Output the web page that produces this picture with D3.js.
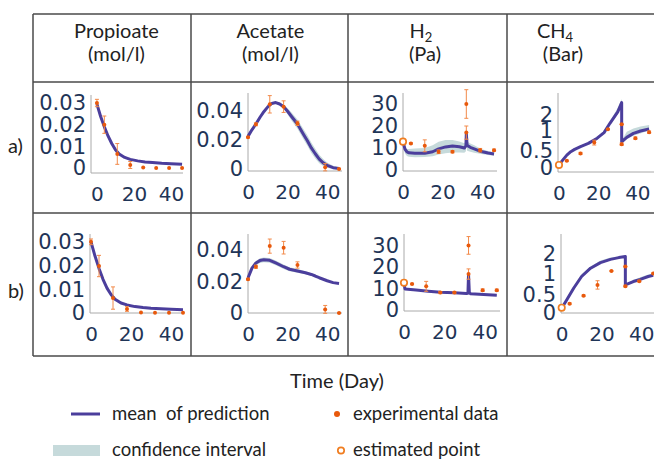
<!DOCTYPE html>
<html>
<head>
<meta charset="utf-8">
<script src="https://cdn.jsdelivr.net/npm/d3@7"></script>
<style>
  body { margin: 0; background: #fff; }
  svg { display: block; }
</style>
</head>
<body>
<svg id="chart" width="654" height="459"></svg>
<script>
// ---- data ----
var headerNames = ["Propioate", "Acetate", "H", "CH"];
var headerSubs = ["", "", "2", "4"];
var headerUnits = ["(mol/l)", "(mol/l)", "(Pa)", "(Bar)"];
var rowLabels = ["a)", "b)"];
var xTicks = [0, 20, 40];
var propTicks = [0, 0.01, 0.02, 0.03];
var acetTicks = [0, 0.02, 0.04];
var h2Ticks = [0, 10, 20, 30];
var ch4Ticks = [0, 0.5, 1, 2];

var expDays = [0, 4, 11, 18, 25, 32, 39, 46];
var acetExpDays = [0, 4, 11, 18, 25, 39, 46];
var gasExpDays = [4, 11, 18, 25, 32, 32, 39, 46];

// propionate
var propDays = [0, 2, 4, 6, 8, 10, 12, 15, 18, 22, 26, 30, 35, 40, 46];
var propA_mean = [0.0295, 0.0238, 0.019, 0.0148, 0.0113, 0.0084, 0.0065, 0.0049, 0.004, 0.0033, 0.0028, 0.0025, 0.0022, 0.002, 0.0017];
var propA_lo = [0.0292, 0.0235, 0.0187, 0.0145, 0.011, 0.0081, 0.0062, 0.0046, 0.0037, 0.003, 0.0025, 0.0022, 0.0019, 0.0017, 0.0014];
var propA_hi = [0.0298, 0.0241, 0.0193, 0.0151, 0.0116, 0.0087, 0.0068, 0.0052, 0.0043, 0.0036, 0.0031, 0.0028, 0.0025, 0.0023, 0.002];
var propA_exp = [0.030, 0.020, 0.0065, 0.0014, 0.0002, 0, 0, 0];
var propA_err = [0.0017, 0.004, 0.0048, 0.0016, 0, 0, 0, 0];
var propB_mean = [0.030, 0.024, 0.0188, 0.0142, 0.0105, 0.0078, 0.0058, 0.0042, 0.0034, 0.0027, 0.0023, 0.002, 0.0018, 0.0016, 0.0014];
var propB_lo = [0.0297, 0.0237, 0.0185, 0.0139, 0.0102, 0.0075, 0.0055, 0.0039, 0.0031, 0.0024, 0.002, 0.0017, 0.0015, 0.0013, 0.0011];
var propB_hi = [0.0303, 0.0243, 0.0191, 0.0145, 0.0108, 0.0081, 0.0061, 0.0045, 0.0037, 0.003, 0.0026, 0.0023, 0.0021, 0.0019, 0.0017];
var propB_exp = [0.030, 0.0198, 0.0063, 0.0017, 0.0002, 0.0001, 0.0001, 0.0001];
var propB_err = [0.0012, 0.0045, 0.0047, 0.001, 0, 0, 0, 0];

// acetate
var acetA_days = [0, 2, 4, 6, 8, 10, 12, 14, 16, 18, 20, 22, 25, 28, 30, 32, 34, 36, 38, 40, 43, 46];
var acetA_mean = [0.0225, 0.027, 0.031, 0.0355, 0.0395, 0.0428, 0.0452, 0.0458, 0.0448, 0.043, 0.0398, 0.0362, 0.031, 0.024, 0.0195, 0.0145, 0.0105, 0.0068, 0.0042, 0.0025, 0.0009, 0.0003];
var acetA_lo = [0.022, 0.0265, 0.0305, 0.035, 0.039, 0.0423, 0.0447, 0.0452, 0.0438, 0.0416, 0.0378, 0.0335, 0.0278, 0.0205, 0.016, 0.011, 0.0072, 0.004, 0.002, 0.0008, 0, 0];
var acetA_hi = [0.023, 0.0275, 0.0315, 0.036, 0.04, 0.0433, 0.0457, 0.0465, 0.0458, 0.0444, 0.0418, 0.039, 0.0342, 0.0276, 0.0232, 0.0182, 0.014, 0.0098, 0.0068, 0.0045, 0.0022, 0.001];
var acetA_exp = [0.0219, 0.0308, 0.0446, 0.043, 0.0315, 0.0012, 0];
var acetA_err = [0.0005, 0.001, 0.006, 0.004, 0.0015, 0.0025, 0.0004];
var acetB_days = [0, 2, 4, 6, 8, 11, 14, 18, 21, 25, 29, 32, 34, 36, 40, 43, 46];
var acetB_mean = [0.0222, 0.0285, 0.0318, 0.0333, 0.0338, 0.0335, 0.0318, 0.0294, 0.0278, 0.0267, 0.0256, 0.0245, 0.0235, 0.0224, 0.0205, 0.0193, 0.0188];
var acetB_lo = [0.0217, 0.0275, 0.0305, 0.0318, 0.0323, 0.032, 0.0303, 0.028, 0.0265, 0.0255, 0.0246, 0.0237, 0.0228, 0.0218, 0.02, 0.0188, 0.0183];
var acetB_hi = [0.0227, 0.0295, 0.0331, 0.0348, 0.0353, 0.035, 0.0333, 0.0308, 0.0291, 0.0279, 0.0266, 0.0253, 0.0242, 0.023, 0.021, 0.0198, 0.0193];
var acetB_exp = [0.0214, 0.0294, 0.0425, 0.0415, 0.0305, 0.0023, 0];
var acetB_err = [0.0005, 0.001, 0.0045, 0.004, 0.002, 0.0025, 0.0003];

// hydrogen
var h2A_days = [0, 1, 2, 3, 6, 11, 15, 18, 21.5, 25, 28.5, 31, 31.8, 32, 32.4, 34, 36, 39.5, 43, 46];
var h2A_mean = [12.9, 9.5, 8.2, 7.8, 7.6, 7.6, 8.3, 9.6, 10.5, 10.9, 10.6, 10.0, 11.0, 16.7, 11.2, 10.3, 9.6, 8.4, 7.7, 7.3];
var h2A_lo = [11.5, 7.5, 6.4, 6.0, 5.8, 5.9, 6.2, 7.0, 7.6, 8.0, 8.0, 7.8, 8.5, 14.0, 8.8, 8.3, 7.9, 7.3, 6.8, 6.5];
var h2A_hi = [13.5, 10.5, 9.6, 9.6, 9.8, 10.0, 11.2, 12.8, 13.6, 13.6, 13.0, 12.2, 13.0, 18.0, 13.0, 12.0, 11.2, 9.6, 8.6, 8.1];
var h2A_exp = [12.1, 11.0, 8.3, 8.3, 30.0, 17.0, 9.0, 9.0];
var h2A_err = [0.3, 2.7, 0.8, 0.5, 6.5, 3.0, 0.8, 0.5];
var h2A_open = 12.9;
var h2B_days = [0, 0.5, 6, 12, 18, 25, 31, 31.7, 32, 32.4, 33, 39.5, 46];
var h2B_mean = [12.5, 9.8, 9.3, 8.7, 8.2, 8.0, 7.7, 7.8, 16.5, 8.0, 7.6, 7.2, 6.9];
var h2B_lo = [12.0, 9.4, 8.9, 8.3, 7.8, 7.6, 7.3, 7.4, 15.5, 7.6, 7.2, 6.8, 6.5];
var h2B_hi = [12.8, 10.2, 9.7, 9.1, 8.6, 8.4, 8.1, 8.2, 17.0, 8.4, 8.0, 7.6, 7.3];
var h2B_exp = [12.1, 11.0, 8.1, 8.1, 30.0, 16.7, 9.2, 9.2];
var h2B_err = [0.3, 2.3, 0.5, 0.5, 4.1, 2.4, 0.6, 0.5];
var h2B_open = 12.7;

// methane
var ch4A_days = [0, 2, 4, 6, 8, 11, 15, 19.5, 23, 26, 30, 32, 32, 34.6, 38, 41.6, 46];
var ch4A_mean = [0.09, 0.24, 0.38, 0.48, 0.54, 0.61, 0.69, 0.82, 0.96, 1.48, 2.2, 2.77, 0.73, 0.84, 0.94, 1.0, 1.12];
var ch4A_lo = [0.09, 0.23, 0.36, 0.46, 0.52, 0.59, 0.67, 0.79, 0.93, 1.42, 2.05, 2.55, 0.70, 0.80, 0.88, 0.94, 1.05];
var ch4A_hi = [0.09, 0.25, 0.40, 0.50, 0.56, 0.63, 0.71, 0.85, 1.0, 1.6, 2.45, 3.0, 0.76, 0.98, 1.15, 1.28, 1.38];
var ch4A_exp = [0.21, 0.43, 0.71, 1.11, 1.42, 0.67, 0.82, 0.97];
var ch4A_err = [0.02, 0.03, 0.06, 0.03, 0.03, 0.03, 0.03, 0.03];
var ch4A_open = 0.09;
var ch4B_days = [0, 2.5, 6, 10, 14.5, 19.5, 24.5, 28.7, 32, 32, 36, 39.5, 43.5, 46];
var ch4B_mean = [0.13, 0.36, 0.66, 0.94, 1.29, 1.57, 1.73, 1.82, 1.87, 0.74, 0.82, 0.87, 0.94, 0.97];
var ch4B_lo = [0.13, 0.34, 0.63, 0.91, 1.25, 1.53, 1.69, 1.79, 1.84, 0.72, 0.80, 0.85, 0.92, 0.95];
var ch4B_hi = [0.13, 0.38, 0.70, 1.0, 1.38, 1.68, 1.82, 1.88, 1.92, 0.76, 0.86, 0.92, 0.99, 1.02];
var ch4B_exp = [0.26, 0.48, 0.74, 1.15, 1.37, 0.71, 0.83, 1.03];
var ch4B_err = [0.02, 0.02, 0.1, 0.02, 0.02, 0.02, 0.02, 0.02];
var ch4B_open = 0.147;

// ---- styling ----
var lineColor = "#4b3e9c";
var bandColor = "#c6dadb";
var dotColor = "#e8590c";
var errColor = "#f28a4a";
var openColor = "#f07d20";
var tickColor = "#1f3557";
var gridColor = "#4a4a4a";
var textFont = "Lato, 'Open Sans', sans-serif";
var tickFont = "'DejaVu Sans', Verdana, sans-serif";

var svg = d3.select("#chart");

// panel boxes in pixels (the y scales are piecewise where the figure's tick spacing is uneven)
var panels = [
  { left: 91, right: 183, top: 95, bottom: 173, xDom: [-3.2, 46.5], yDom: [-0.0023, 0.0337], yRng: [173, 95],
    ticks: propTicks, days: propDays, mean: propA_mean, lo: propA_lo, hi: propA_hi, eDays: expDays, exp: propA_exp, err: propA_err },
  { left: 248, right: 342, top: 93, bottom: 171, xDom: [0, 47.5], yDom: [-0.0014, 0.0524], yRng: [171, 93],
    ticks: acetTicks, days: acetA_days, mean: acetA_mean, lo: acetA_lo, hi: acetA_hi, eDays: acetExpDays, exp: acetA_exp, err: acetA_err },
  { left: 403, right: 497, top: 93, bottom: 171, xDom: [0, 47.5], yDom: [-0.45, 35], yRng: [171, 93],
    ticks: h2Ticks, days: h2A_days, mean: h2A_mean, lo: h2A_lo, hi: h2A_hi, eDays: gasExpDays, exp: h2A_exp, err: h2A_err, open: h2A_open },
  { left: 558, right: 654, top: 93, bottom: 172, xDom: [-0.5, 48.5], yDom: [-0.12, 0, 0.5, 1, 2, 3.375], yRng: [172, 168, 151, 131, 115, 93],
    ticks: ch4Ticks, days: ch4A_days, mean: ch4A_mean, lo: ch4A_lo, hi: ch4A_hi, eDays: gasExpDays, exp: ch4A_exp, err: ch4A_err, open: ch4A_open },
  { left: 90, right: 183, top: 234, bottom: 313, xDom: [-0.5, 46], yDom: [0, 0.0333], yRng: [313, 234],
    ticks: propTicks, days: propDays, mean: propB_mean, lo: propB_lo, hi: propB_hi, eDays: expDays, exp: propB_exp, err: propB_err },
  { left: 248, right: 342, top: 234, bottom: 313, xDom: [0, 47.5], yDom: [0, 0.0502], yRng: [313, 234],
    ticks: acetTicks, days: acetB_days, mean: acetB_mean, lo: acetB_lo, hi: acetB_hi, eDays: acetExpDays, exp: acetB_exp, err: acetB_err },
  { left: 404, right: 500, top: 234, bottom: 311, xDom: [0, 47.6], yDom: [-0.45, 35.3], yRng: [311, 234],
    ticks: h2Ticks, days: h2B_days, mean: h2B_mean, lo: h2B_lo, hi: h2B_hi, eDays: gasExpDays, exp: h2B_exp, err: h2B_err, open: h2B_open },
  { left: 561, right: 654, top: 234, bottom: 313, xDom: [-0.35, 46.4], yDom: [0, 0.5, 1, 2, 3], yRng: [313, 295, 274, 254, 234],
    ticks: ch4Ticks, days: ch4B_days, mean: ch4B_mean, lo: ch4B_lo, hi: ch4B_hi, eDays: gasExpDays, exp: ch4B_exp, err: ch4B_err, open: ch4B_open }
];

drawTable();
panels.forEach(drawPanel);
drawLegend();

// the grid around the small plots, with headers and row labels
function drawTable() {
  var colX = [33, 191, 348, 507];
  var rowY = [14, 82, 213, 356];
  var g = svg.append("g").attr("stroke", gridColor).attr("stroke-width", 1.5);
  rowY.forEach(function(y) {
    g.append("line").attr("x1", 33).attr("x2", 654).attr("y1", y).attr("y2", y);
  });
  colX.forEach(function(x) {
    g.append("line").attr("x1", x).attr("x2", x).attr("y1", 14).attr("y2", 356);
  });

  var headX = [116.5, 270.5, 421, 555];
  var unitX = [116.5, 270.5, 425, 563];
  headerNames.forEach(function(name, i) {
    var t = svg.append("text")
      .attr("x", headX[i]).attr("y", 38)
      .attr("text-anchor", "middle")
      .style("font-family", textFont).style("font-size", "20px").style("fill", "#222")
      .text(name);
    if (headerSubs[i]) {
      t.append("tspan").attr("dy", 4).style("font-size", "13px").text(headerSubs[i]);
    }
    svg.append("text")
      .attr("x", unitX[i]).attr("y", 61)
      .attr("text-anchor", "middle")
      .style("font-family", textFont).style("font-size", "20px").style("fill", "#222")
      .text(headerUnits[i]);
  });

  rowLabels.forEach(function(lab, i) {
    svg.append("text")
      .attr("x", 8).attr("y", [153, 298][i])
      .style("font-family", textFont).style("font-size", "20px").style("fill", "#222")
      .text(lab);
  });

  svg.append("text")
    .attr("x", 337).attr("y", 388)
    .attr("text-anchor", "middle")
    .style("font-family", textFont).style("font-size", "20px").style("fill", "#222")
    .text("Time (Day)");
}

function drawPanel(p) {
  var x = d3.scaleLinear().domain(p.xDom).range([p.left, p.right]);
  var y = d3.scaleLinear().domain(p.yDom).range(p.yRng);
  var g = svg.append("g");

  // axis lines
  g.append("line").attr("x1", p.left).attr("x2", p.left).attr("y1", p.top).attr("y2", p.bottom)
    .attr("stroke", "#aaa").attr("stroke-width", 1);
  g.append("line").attr("x1", p.left).attr("x2", p.right).attr("y1", p.bottom).attr("y2", p.bottom)
    .attr("stroke", "#aaa").attr("stroke-width", 1);

  var rows = p.days.map(function(d, i) {
    return { day: d, mean: p.mean[i], lo: p.lo[i], hi: p.hi[i] };
  });

  // confidence band
  g.append("path").datum(rows)
    .attr("fill", bandColor)
    .attr("d", d3.area().x(d => x(d.day)).y0(d => y(d.lo)).y1(d => y(d.hi)));

  // mean prediction
  g.append("path").datum(rows)
    .attr("fill", "none")
    .attr("stroke", lineColor)
    .attr("stroke-width", 3)
    .attr("stroke-linejoin", "round")
    .attr("d", d3.line().x(d => x(d.day)).y(d => y(d.mean)));

  var pts = p.eDays.map(function(d, i) {
    return { day: d, v: p.exp[i], e: p.err[i] };
  });

  // error bars
  var eb = g.selectAll(".err").data(pts.filter(d => d.e > 0)).enter().append("g")
    .attr("stroke", errColor).attr("stroke-width", 1);
  eb.append("line")
    .attr("x1", d => x(d.day)).attr("x2", d => x(d.day))
    .attr("y1", d => y(d.v - d.e)).attr("y2", d => y(d.v + d.e));
  eb.append("line")
    .attr("x1", d => x(d.day) - 2).attr("x2", d => x(d.day) + 2)
    .attr("y1", d => y(d.v - d.e)).attr("y2", d => y(d.v - d.e));
  eb.append("line")
    .attr("x1", d => x(d.day) - 2).attr("x2", d => x(d.day) + 2)
    .attr("y1", d => y(d.v + d.e)).attr("y2", d => y(d.v + d.e));

  // experimental data
  g.selectAll(".dot").data(pts).enter().append("circle")
    .attr("cx", d => x(d.day)).attr("cy", d => y(d.v))
    .attr("r", 2).attr("fill", dotColor);

  // estimated initial point
  if (p.open !== undefined) {
    g.append("circle")
      .attr("cx", x(0)).attr("cy", y(p.open))
      .attr("r", 3.2).attr("fill", "#fff")
      .attr("stroke", openColor).attr("stroke-width", 1.7);
  }

  // tick labels
  var yAxis = d3.axisLeft(y).tickValues(p.ticks).tickSize(0).tickPadding(5).tickFormat(d => String(d));
  var ya = g.append("g").attr("transform", `translate(${p.left},0)`).call(yAxis);
  var xAxis = d3.axisBottom(x).tickValues(xTicks).tickSize(0).tickPadding(14).tickFormat(d => String(d));
  var xa = g.append("g").attr("transform", `translate(0,${p.bottom})`).call(xAxis);
  ya.selectAll("text").style("font-size", "21px");
  xa.selectAll("text").style("font-size", "20px");
  [ya, xa].forEach(function(a) {
    a.select(".domain").remove();
    a.selectAll("text")
      .style("font-family", tickFont)
      .style("fill", tickColor);
  });
}

function drawLegend() {
  var g = svg.append("g")
    .style("font-family", textFont).style("font-size", "18.5px").style("fill", "#222");

  g.append("line").attr("x1", 71).attr("x2", 100).attr("y1", 414).attr("y2", 414)
    .attr("stroke", lineColor).attr("stroke-width", 3);
  g.append("text").attr("x", 112).attr("y", 420).style("white-space", "pre").text("mean  of prediction");

  g.append("circle").attr("cx", 337).attr("cy", 414).attr("r", 3).attr("fill", dotColor);
  g.append("text").attr("x", 353).attr("y", 420).text("experimental data");

  g.append("rect").attr("x", 53).attr("y", 445).attr("width", 47).attr("height", 11).attr("fill", bandColor);
  g.append("text").attr("x", 112).attr("y", 456).text("confidence interval");

  g.append("circle").attr("cx", 341).attr("cy", 450.5).attr("r", 3.2)
    .attr("fill", "#fff").attr("stroke", openColor).attr("stroke-width", 1.7);
  g.append("text").attr("x", 353).attr("y", 456).text("estimated point");
}
</script>
</body>
</html>
